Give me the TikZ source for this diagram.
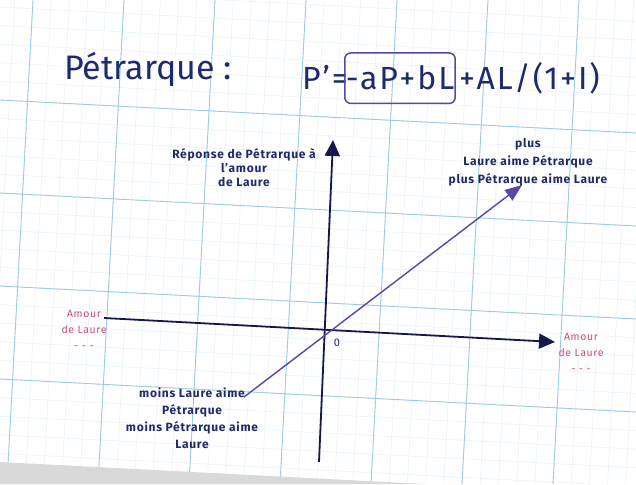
\documentclass[tikz,border=0pt]{standalone}
\usepackage{fontspec}
\setmainfont{Fira Sans}
\newfontfamily\handwide[LetterSpace=6]{Fira Sans}
\usetikzlibrary{positioning,arrows.meta}
\definecolor{inkNavy}{HTML}{1F2A6B}
\definecolor{inkViolet}{HTML}{5A45A8}
\definecolor{inkPink}{HTML}{D2497F}
\definecolor{gridBlue}{HTML}{9CCBE8}
\definecolor{axisNavy}{HTML}{15174F}

\begin{document}
\begin{tikzpicture}[x=1pt, y=-1pt,
      gridline/.style={gridBlue, line width=0.9pt},
      minorline/.style={gridBlue!30, line width=0.4pt},
      big/.style={font=\handwide\fontsize{32}{36}\selectfont, color=inkNavy, inner sep=0pt},
      lab/.style={font=\handwide\fontsize{12}{16}\selectfont\bfseries, color=inkNavy, align=center},
      pinklab/.style={font=\handwide\fontsize{10.5}{16}\selectfont, color=inkPink, align=center},
      axis/.style={-{Triangle[length=16pt,width=15pt]}, line width=1.8pt, color=axisNavy},
      diag/.style={-{Triangle[length=17pt,width=13pt]}, line width=1.4pt, color=inkViolet}]
    \useasboundingbox (0,0) rectangle (636,484);
    % paper and shadow
    \fill[white] (0,0) rectangle (636,484);
    \fill[black!15] (0,462) -- (424,484) -- (0,484) -- cycle;
    \begin{scope}
      \clip (0,0) -- (636,0) -- (636,484) -- (424,484) -- (0,462) -- cycle;
      \foreach \k in {-2,...,34}
        \draw[minorline] ({33+18.2*\k},0) -- ({7+18.2*\k},484);
      \foreach \k in {-6,...,20}
        \draw[minorline] (0,{100+18.6*\k}) -- (636,{133+18.6*\k});
      \foreach \i in {0,...,6}
        \draw[gridline] ({33+91*\i},0) -- ({7+91*\i},484);
      \foreach \j in {0,...,3}
        \draw[gridline] (0,{100+93*\j}) -- (636,{133+93*\j});
    \end{scope}

    % heading and equation
    \node[big, font=\fontsize{34}{38}\selectfont] (title) at (148,70) {Pétrarque :};
    \node[big, anchor=base east] (lhs) at (348,90) {P’=};
    \node[big, anchor=base west, draw=inkViolet, line width=1.5pt,
      rounded corners=6pt, inner xsep=1pt, inner ysep=13pt]
      (boxed) at ([xshift=-4pt]lhs.base east) {-aP+bL};
    \node[big, anchor=base west] (rhs) at ([xshift=3pt]boxed.base east) {+AL/(1+I)};

    % axes
    \coordinate (ybot) at (319,462);
    \coordinate (ytop) at (333,140);
    \coordinate (xleft) at (104,318);
    \coordinate (xright) at (555,342);
    \coordinate (dlow) at (244,397);
    \coordinate (dhigh) at (522,185);
    \draw[axis] (ybot) -- (ytop);
    \draw[axis] (xleft) -- (xright);
    \draw[diag] (dlow) -- (dhigh);
    \node[font=\fontsize{11}{11}\selectfont, color=inkNavy] (origin) at (337,343) {0};

    % labels
    \node[lab, font=\handwide\fontsize{12}{14}\selectfont\bfseries] (reponse) at (244,168)
      {Réponse de Pétrarque à\\l’amour\\de Laure};
    \node[lab, font=\handwide\fontsize{12}{18}\selectfont\bfseries] (plus) at (528,162)
      {plus\\Laure aime Pétrarque\\plus Pétrarque aime Laure};
    \node[lab, font=\handwide\fontsize{12}{17}\selectfont\bfseries] (moins) at (192,418)
      {moins Laure aime\\Pétrarque\\moins Pétrarque aime\\Laure};
    \node[pinklab] (amourL) at (84,330) {Amour\\de Laure\\- - -};
    \node[pinklab] (amourR) at (581,353) {Amour\\de Laure\\- - -};
\end{tikzpicture}
\end{document}
